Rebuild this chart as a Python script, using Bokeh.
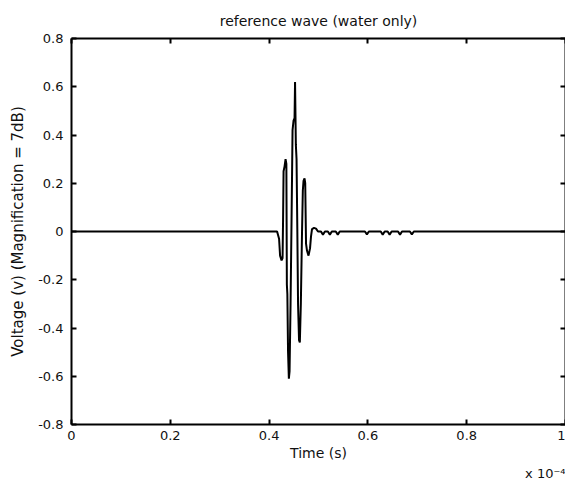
from bokeh.plotting import figure
from bokeh.models import LinearAxis, FixedTicker, Title, Range1d
from bokeh.embed import file_html
from bokeh.resources import INLINE

# time in units of 1e-4 s
time_e4 = [0.0, 0.41616, 0.42020, 0.42222, 0.42525, 0.42727, 0.42828, 0.42929,
           0.43131, 0.43333, 0.43495, 0.43596, 0.43697, 0.43838, 0.44000, 0.44141,
           0.44343, 0.44545, 0.44747, 0.44949, 0.45152, 0.45253, 0.45414, 0.45556,
           0.45717, 0.45859, 0.46061, 0.46222, 0.46424, 0.46667, 0.46828, 0.46970,
           0.47172, 0.47313, 0.47475, 0.47677, 0.47980, 0.48283, 0.48485, 0.48687,
           0.49091, 0.49495, 0.49899,
           0.505, 0.509, 0.513,
           0.519, 0.523, 0.527,
           0.535, 0.539, 0.543,
           0.594, 0.598, 0.602,
           0.626, 0.630, 0.634,
           0.640, 0.644, 0.648,
           0.661, 0.665, 0.669,
           0.685, 0.689, 0.693,
           1.0]
voltage = [0.0, 0.0, -0.03, -0.10, -0.12, -0.11, 0.05, 0.25,
           0.27, 0.30, 0.28, -0.22, -0.26, -0.50, -0.61, -0.58,
           -0.30, 0.05, 0.42, 0.46, 0.47, 0.62, 0.36, 0.30,
           0.0, -0.30, -0.45, -0.46, -0.30, 0.0, 0.17, 0.21,
           0.22, 0.20, -0.05, -0.08, -0.10, -0.07, -0.02, 0.01,
           0.015, 0.012, 0.0,
           0.0, -0.013, 0.0,
           0.0, -0.013, 0.0,
           0.0, -0.013, 0.0,
           0.0, -0.012, 0.0,
           0.0, -0.013, 0.0,
           0.0, -0.013, 0.0,
           0.0, -0.013, 0.0,
           0.0, -0.012, 0.0,
           0.0]

x_ticks = [0, 0.2, 0.4, 0.6, 0.8, 1.0]
x_tick_labels = ["0", "0.2", "0.4", "0.6", "0.8", "1"]
y_ticks = [-0.8, -0.6, -0.4, -0.2, 0, 0.2, 0.4, 0.6, 0.8]
y_tick_labels = ["-0.8", "-0.6", "-0.4", "-0.2", "0", "0.2", "0.4", "0.6", "0.8"]

FONT = "DejaVu Sans"
FS_TICK = "13px"
FS_TEXT = "14px"
TXT = "#111111"

p = figure(width=565, height=480, output_backend="svg", toolbar_location=None,
           x_range=Range1d(0, 1), y_range=Range1d(-0.8, 0.8),
           title="reference wave (water only)",
           min_border_left=71, min_border_right=0, min_border_top=37, min_border_bottom=54)
p.background_fill_color = "white"
p.border_fill_color = "white"
p.outline_line_color = None
p.grid.visible = False

p.title.align = "center"
p.title.text_font = FONT
p.title.text_font_size = FS_TEXT
p.title.text_font_style = "normal"
p.title.text_color = TXT
p.title.standoff = 20

p.line(time_e4, voltage, line_color="black", line_width=2)

def style(ax):
    ax.axis_line_width = 2
    ax.axis_line_color = "black"
    ax.major_tick_in = 5
    ax.major_tick_out = 0
    ax.major_tick_line_width = 2
    ax.minor_tick_line_color = None
    ax.major_label_text_font = FONT
    ax.major_label_text_font_size = FS_TICK
    ax.major_label_text_color = TXT
    ax.axis_label_text_font = FONT
    ax.axis_label_text_font_size = FS_TEXT
    ax.axis_label_text_font_style = "normal"
    ax.axis_label_text_color = TXT

xb = p.xaxis[0]
xb.ticker = FixedTicker(ticks=x_ticks)
xb.major_label_overrides = dict(zip(x_ticks, x_tick_labels))
xb.axis_label = "Time (s)"
style(xb)
xb.major_label_standoff = 6
xb.axis_label_standoff = 2

yl = p.yaxis[0]
yl.ticker = FixedTicker(ticks=y_ticks)
yl.major_label_overrides = dict(zip(y_ticks, y_tick_labels))
yl.axis_label = "Voltage (v) (Magnification = 7dB)"
style(yl)
yl.axis_label_text_font_size = "15px"
yl.major_label_standoff = 8
yl.axis_label_standoff = 8

top = LinearAxis(ticker=FixedTicker(ticks=x_ticks))
style(top)
top.major_label_overrides = {t: "" for t in x_ticks}
top.major_label_standoff = 0
p.add_layout(top, "above")
right = LinearAxis(ticker=FixedTicker(ticks=y_ticks))
style(right)
right.major_label_overrides = {t: "" for t in y_ticks}
right.major_label_standoff = 0
p.add_layout(right, "right")

# exponent note at the lower right, below the x axis
p.add_layout(Title(text="x 10\u207b\u2074", align="right", standoff=0,
                   text_font=FONT, text_font_size=FS_TICK, text_font_style="normal",
                   text_color=TXT), "below")

open("out.html", "w").write(file_html(p, INLINE))
